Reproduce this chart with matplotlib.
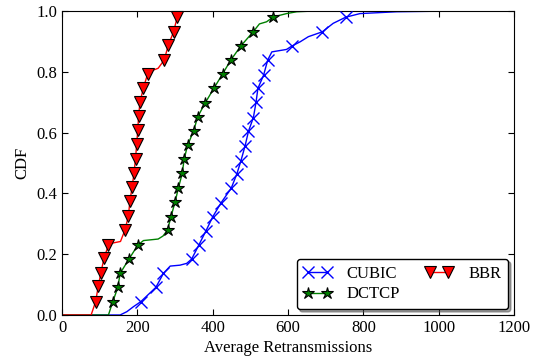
import numpy as np
import matplotlib
matplotlib.use("Agg")
import matplotlib.pyplot as plt

# ---------------------------------------------------------------------------
# Data
# ---------------------------------------------------------------------------
# marker points: (average retransmissions, CDF)
cubic_mk_x = [209, 249, 269, 344, 363, 382, 400, 422, 449, 464, 475,
              486, 495, 508, 515, 520, 535, 546, 610, 691, 753]
cubic_mk_y = [0.044, 0.091, 0.137, 0.184, 0.230, 0.277, 0.323, 0.369, 0.417,
              0.464, 0.508, 0.557, 0.605, 0.650, 0.700, 0.746, 0.789, 0.839,
              0.885, 0.932, 0.980]
# extra line knots between markers
cubic_ln_x = [0, 154, 172, 189, 287, 313, 331, 557, 596, 632, 654, 720,
              791, 888, 1010]
cubic_ln_y = [0.0, 0.0, 0.011, 0.027, 0.161, 0.164, 0.170, 0.866, 0.874,
              0.899, 0.916, 0.960, 0.992, 0.998, 1.0]

dctcp_mk_x = [134, 148, 154, 178, 201, 280, 289, 300, 309, 319, 324,
              333, 349, 360, 380, 403, 426, 448, 475, 508, 561]
dctcp_mk_y = [0.042, 0.091, 0.137, 0.185, 0.230, 0.280, 0.323, 0.372, 0.419,
              0.466, 0.512, 0.558, 0.605, 0.652, 0.698, 0.746, 0.793, 0.839,
              0.886, 0.933, 0.981]
dctcp_ln_x = [0, 123, 216, 255, 268, 524, 543, 596, 623, 660]
dctcp_ln_y = [0.0, 0.0, 0.245, 0.250, 0.260, 0.958, 0.965, 0.992, 0.998, 1.0]

bbr_mk_x = [89, 96, 103, 111, 123, 167, 176, 180, 186, 191, 195,
            198, 201, 203, 207, 216, 227, 271, 282, 296, 306]
bbr_mk_y = [0.044, 0.095, 0.139, 0.186, 0.230, 0.280, 0.326, 0.375, 0.422,
            0.468, 0.515, 0.562, 0.609, 0.655, 0.702, 0.748, 0.793, 0.839,
            0.888, 0.932, 0.982]
bbr_ln_x = [0, 77, 135, 155, 240, 255, 312, 330]
bbr_ln_y = [0.0, 0.0, 0.237, 0.242, 0.805, 0.812, 1.0, 1.0]

X_TICKS = [0, 200, 400, 600, 800, 1000, 1200]
Y_TICKS = [0.0, 0.2, 0.4, 0.6, 0.8, 1.0]

plt.rcParams["font.family"] = "serif"
plt.rcParams["font.serif"] = ["Liberation Serif", "DejaVu Serif"]
plt.rcParams["mathtext.fontset"] = "stix"


def merged(mk_x, mk_y, ln_x, ln_y):
    """Join marker points and line knots into one monotone CDF path."""
    x = np.concatenate([mk_x, ln_x]).astype(float)
    y = np.concatenate([mk_y, ln_y]).astype(float)
    order = np.lexsort((x, y))
    return x[order], y[order]


fig = plt.figure(figsize=(5.45, 3.6), dpi=100)
ax = fig.add_axes([0.114, 0.125, 0.829, 0.844])

series = [
    ("CUBIC", cubic_mk_x, cubic_mk_y, cubic_ln_x, cubic_ln_y,
     dict(color="#0000ff", marker="x", ms=8, mew=1.0, mec="#0000ff")),
    ("DCTCP", dctcp_mk_x, dctcp_mk_y, dctcp_ln_x, dctcp_ln_y,
     dict(color="#008000", marker="*", ms=9, mew=0.8, mec="k", mfc="#008000")),
    ("BBR", bbr_mk_x, bbr_mk_y, bbr_ln_x, bbr_ln_y,
     dict(color="#ff0000", marker="v", ms=8.5, mew=0.8, mec="k", mfc="#ff0000")),
]

handles = []
for name, mk_x, mk_y, ln_x, ln_y, st in series:
    lx, ly = merged(mk_x, mk_y, ln_x, ln_y)
    line, = ax.plot(lx, ly, color=st["color"], lw=1.0)
    mk, = ax.plot(mk_x, mk_y, ls="none", marker=st["marker"], ms=st["ms"],
                  mew=st["mew"], mec=st["mec"], mfc=st.get("mfc", "none"),
                  clip_on=False, zorder=3)
    handles.append(((line, mk), name))

ax.set_xlim(0, 1200)
ax.set_ylim(0, 1.0)
ax.set_xticks(X_TICKS)
ax.set_yticks(Y_TICKS)
ax.set_yticklabels([f"{v:.1f}" for v in Y_TICKS])
ax.tick_params(direction="in", top=True, right=True, length=4, labelsize=12)
ax.set_xlabel("Average Retransmissions", fontsize=12, labelpad=3)
ax.set_ylabel("CDF", fontsize=12)

leg = ax.legend([h for h, _ in handles], [n for _, n in handles],
                loc="lower right", ncol=2, fontsize=12, numpoints=2,
                fancybox=True, shadow=True, framealpha=1,
                handlelength=1.7, handletextpad=0.9, columnspacing=1.5,
                labelspacing=0.3, borderaxespad=0.35)
leg.get_frame().set_edgecolor("k")

fig.savefig("out.png", dpi=100)
